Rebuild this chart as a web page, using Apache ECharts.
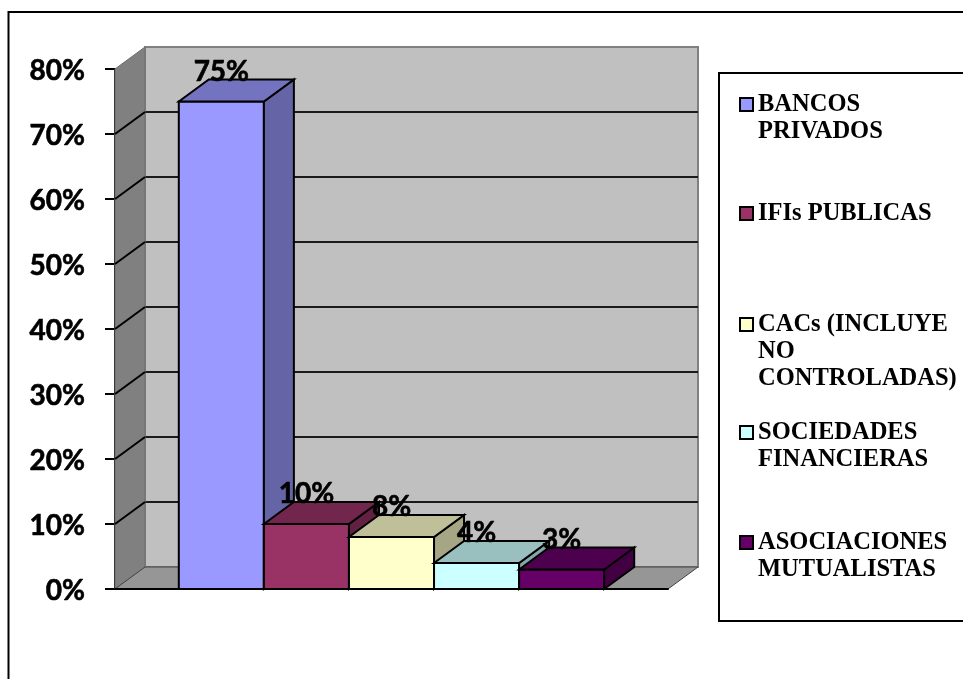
<!DOCTYPE html>
<html><head><meta charset="utf-8">
<style>html,body{margin:0;padding:0;background:#fff}#c{width:963px;height:679px}</style>
<script src="https://cdn.jsdelivr.net/npm/echarts@6/dist/echarts.min.js"></script>
</head><body><div id="c"></div>
<script>
const seriesNames = ['BANCOS\nPRIVADOS','IFIs PUBLICAS','CACs (INCLUYE\nNO\nCONTROLADAS)','SOCIEDADES\nFINANCIERAS','ASOCIACIONES\nMUTUALISTAS'];
const values = [75, 10, 8, 4, 3];
const frontColors = ['#9999FF','#993366','#FFFFCC','#CCFFFF','#660066'];
const topColors   = ['#7373BF','#73264D','#BFBF99','#99BFBF','#4D004D'];
const sideColors  = ['#6464A6','#632142','#A6A685','#85A6A6','#420042'];
const yTicks = [0,10,20,30,40,50,60,70,80];
const legendTops = [64, 200, 257, 392, 502];

const DX = 30, DY = 22, GAP = 1.5;
const stroke = {stroke:'#000', lineWidth:2, lineJoin:'miter'};
const poly = (points, fill, s) => ({type:'polygon', shape:{points}, style:Object.assign({fill}, s||stroke)});

function renderBar(i){
  return function(params, api){
    const base = api.coord([0,0]), top = api.coord([0,api.value(1)]);
    const w = api.size([1,0])[0] / (values.length + GAP);
    const x0 = base[0] - w*values.length/2 + i*w, x1 = x0 + w;
    const y0 = base[1], y1 = top[1];
    return {type:'group', children:[
      poly([[x0,y0],[x1,y0],[x1,y1],[x0,y1]], frontColors[i]),
      poly([[x1,y0],[x1+DX,y0-DY],[x1+DX,y1-DY],[x1,y1]], sideColors[i]),
      poly([[x0,y1],[x0+DX,y1-DY],[x1+DX,y1-DY],[x1,y1]], topColors[i]),
      {type:'text', z2:50, style:{text:api.value(1)+'%', x:(x0+x1)/2, y:y1-30, align:'center', verticalAlign:'middle',
        fill:'#000', stroke:'#000', lineWidth:0.6, font:'bold 28px Lato, "Open Sans", sans-serif'}}
    ]};
  };
}
function renderWall(params, api){
  const v = api.value(0);
  const p = api.coord([0,v]);
  const xLeft = p[0] - api.size([1,0])[0]/2;
  const kids = [];
  if (params.dataIndex === 0){
    const right = xLeft + api.size([1,0])[0];
    const topY = api.coord([0,yTicks[yTicks.length-1]])[1];
    kids.push(poly([[xLeft,p[1]],[xLeft+DX,p[1]-DY],[xLeft+DX,topY-DY],[xLeft,topY]], '#808080', {stroke:'#6e6e6e',lineWidth:1}));
    kids.push(poly([[xLeft,p[1]],[xLeft+DX,p[1]-DY],[right+DX,p[1]-DY],[right,p[1]]], '#969696', {stroke:'#444',lineWidth:1}));
  } else if (v !== yTicks[yTicks.length-1]) {
    kids.push({type:'line', shape:{x1:xLeft,y1:p[1],x2:xLeft+DX,y2:p[1]-DY}, style:{stroke:'#000',lineWidth:2}});
  }
  return {type:'group', children:kids};
}

const chart = echarts.init(document.getElementById('c'), null, {renderer:'canvas'});
const legendFont = {fontFamily:'"Liberation Serif", serif', fontWeight:'bold', fontSize:24.5, lineHeight:27, color:'#000'};
chart.setOption({
  animation:false,
  backgroundColor:'#fff',
  grid:[
    {left:115, top:69, width:553, height:520, containLabel:false},
    {left:145, top:47, width:553, height:520, show:true, backgroundColor:'#C0C0C0', borderColor:'#808080', borderWidth:2, z:0}
  ],
  xAxis:[
    {type:'category', gridIndex:0, data:[''], axisLine:{lineStyle:{color:'#000',width:2}}, axisTick:{show:false}, axisLabel:{show:false}, z:6},
    {type:'category', gridIndex:1, data:[''], show:false}
  ],
  yAxis:[
    {type:'value', gridIndex:0, min:0, max:80, interval:10, splitLine:{show:false},
     axisLine:{show:true, lineStyle:{color:'#000',width:2}},
     axisTick:{show:true, length:10, lineStyle:{color:'#000',width:2}},
     axisLabel:{formatter:v=>'{a|'+v+'%}', margin:30, rich:{a:{color:'#000', fontFamily:'Lato', fontWeight:'bold', fontSize:28,
       textBorderColor:'#000', textBorderWidth:0.6, padding:[4,0,0,0]}}}},
    {type:'value', gridIndex:1, min:0, max:80, interval:10, axisLine:{show:false}, axisTick:{show:false}, axisLabel:{show:false},
     splitLine:{show:true, showMinLine:false, showMaxLine:false, lineStyle:{color:'#1a1a1a',width:2}}}
  ],
  legend: seriesNames.map((n,i)=>({
    data:[n], selectedMode:false, left:739, top:legendTops[i], padding:0, icon:'rect', itemWidth:13, itemHeight:13, itemGap:0,
    itemStyle:{borderColor:'#000',borderWidth:2}, textStyle:legendFont,
    formatter:name=>{const k=name.split('\n').length; return ' \n'.repeat(k-1)+name;}
  })),
  graphic:[
    {type:'rect', z:-10, silent:true, shape:{x:8.5,y:12,width:1000,height:720}, style:{fill:'none',stroke:'#000',lineWidth:2}},
    {type:'rect', z:-10, silent:true, shape:{x:719,y:73,width:300,height:548}, style:{fill:'#fff',stroke:'#000',lineWidth:2}}
  ],
  series:[
    {type:'custom', name:'walls', silent:true, z:1, renderItem:renderWall, xAxisIndex:0, yAxisIndex:0, encode:{y:0},
     data:yTicks.map(v=>[v])},
    ...seriesNames.map((n,i)=>({type:'custom', name:n, silent:true, z:3+i, renderItem:renderBar(i), xAxisIndex:0, yAxisIndex:0,
      itemStyle:{color:frontColors[i]}, encode:{x:0,y:1}, data:[[0,values[i]]]}))
  ]
});
</script></body></html>
